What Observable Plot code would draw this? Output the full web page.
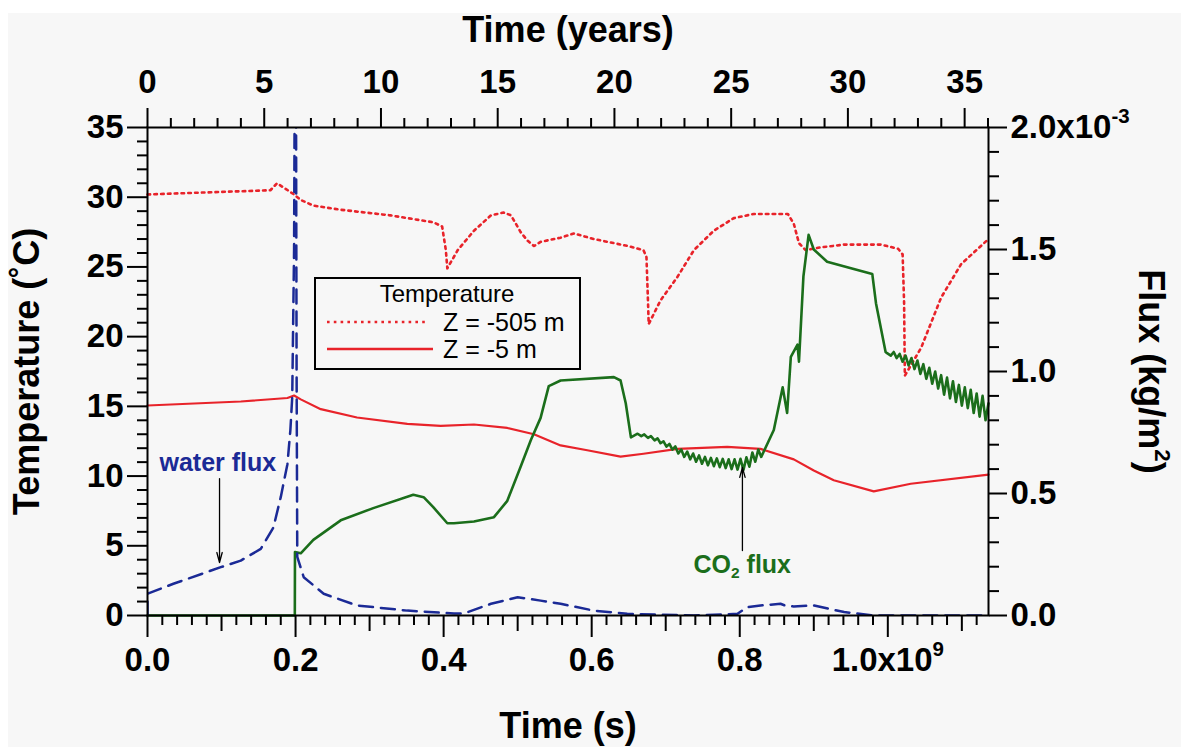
<!DOCTYPE html>
<html>
<head>
<meta charset="utf-8">
<script src="https://cdn.jsdelivr.net/npm/d3@7"></script>
<script src="https://cdn.jsdelivr.net/npm/@observablehq/plot@0.6"></script>
<style>
  html, body { margin: 0; padding: 0; background: #ffffff; }
  #wrap { position: relative; width: 1181px; height: 747px; overflow: hidden; }
  #bg { position: absolute; left: 8px; top: 13px; right: 0; bottom: 0; background: #f7f7f7; }
  #chart { position: absolute; left: 0; top: 0; }
  #legend { position: absolute; left: 314px; top: 277px; }
</style>
</head>
<body>
<div id="wrap">
  <div id="bg"></div>
  <div id="chart"></div>
  <svg id="legend" width="267" height="93"></svg>
</div>
<script>
// ---------- data (time in units of 1e9 s) ----------
const YEAR_E9 = 0.031536;          // one year in 1e9 s
const K = 35 / 2.0;                // flux (1e-3 kg/m2) -> temperature axis units

// Temperature, Z = -505 m  [time, °C]
const deepTemp = [
  [0, 30.2], [0.166, 30.5], [0.175, 31.0], [0.198, 30.2], [0.207, 29.8], [0.224, 29.4],
  [0.261, 29.1], [0.328, 28.7], [0.386, 28.2], [0.398, 27.9], [0.403, 26.2], [0.405, 24.9],
  [0.419, 26.2], [0.441, 27.6], [0.464, 28.7], [0.481, 28.9], [0.491, 28.7], [0.504, 27.5],
  [0.513, 26.9], [0.522, 26.5], [0.531, 26.8], [0.558, 27.1], [0.576, 27.4], [0.603, 27.0],
  [0.649, 26.5], [0.670, 26.2], [0.674, 25.7], [0.676, 22.6], [0.677, 20.9], [0.693, 22.6],
  [0.716, 24.3], [0.738, 26.2], [0.765, 27.6], [0.792, 28.5], [0.819, 28.8], [0.865, 28.8],
  [0.873, 28.1], [0.880, 26.7], [0.889, 26.2], [0.909, 26.4], [0.941, 26.6], [0.991, 26.6],
  [1.014, 26.3], [1.020, 25.9], [1.022, 22.4], [1.023, 17.2], [1.045, 19.2], [1.072, 22.8],
  [1.099, 25.2], [1.136, 27.0]
];

// Temperature, Z = -5 m  [time, °C]
const shallowTemp = [
  [0, 15.06], [0.126, 15.35], [0.189, 15.6], [0.198, 15.78], [0.207, 15.5], [0.234, 14.8],
  [0.283, 14.2], [0.351, 13.75], [0.396, 13.6], [0.441, 13.7], [0.486, 13.45], [0.522, 13.0],
  [0.558, 12.2], [0.594, 11.85], [0.639, 11.4], [0.670, 11.6], [0.716, 11.95], [0.783, 12.1],
  [0.828, 11.95], [0.873, 11.2], [0.900, 10.4], [0.927, 9.7], [0.981, 8.9], [1.031, 9.45],
  [1.136, 10.1]
];

// Water flux  [time, 1e-3 kg/m2]
const waterFlux = [
  [0, 0], [0, 0.089], [0.035, 0.13], [0.099, 0.198], [0.126, 0.225], [0.153, 0.273],
  [0.170, 0.36], [0.180, 0.485], [0.189, 0.62], [0.193, 0.76], [0.1955, 0.895], [0.198, 1.5],
  [0.199, 2.3], [0.2005, 2.3], [0.2014, 1.0], [0.2023, 0.24], [0.211, 0.157], [0.238, 0.089],
  [0.283, 0.041], [0.351, 0.02], [0.414, 0.008], [0.427, 0.008], [0.464, 0.048], [0.500, 0.075],
  [0.531, 0.061], [0.558, 0.048], [0.603, 0.02], [0.648, 0.007], [0.738, 0], [0.797, 0.007],
  [0.810, 0.034], [0.828, 0.041], [0.855, 0.048], [0.862, 0.040], [0.873, 0.037], [0.900, 0.041],
  [0.941, 0.014], [0.981, 0], [1.136, 0]
];

// CO2 flux  [time, 1e-3 kg/m2]
const co2Flux = [
  [0, 0], [0.199, 0], [0.1992, 0.26], [0.207, 0.255], [0.224, 0.31], [0.261, 0.39], [0.305, 0.44],
  [0.359, 0.495], [0.373, 0.485], [0.386, 0.444], [0.405, 0.378], [0.414, 0.378], [0.441, 0.385],
  [0.468, 0.403], [0.486, 0.47], [0.504, 0.61], [0.518, 0.72], [0.531, 0.81], [0.542, 0.94],
  [0.558, 0.963], [0.630, 0.977], [0.639, 0.963], [0.646, 0.87], [0.653, 0.73], [0.662, 0.745],
  [0.667, 0.735], [0.671, 0.742], [0.676, 0.728], [0.680, 0.735], [0.685, 0.718], [0.689, 0.726],
  [0.693, 0.706], [0.697, 0.714], [0.701, 0.692], [0.705, 0.703], [0.709, 0.680], [0.713, 0.693],
  [0.717, 0.664], [0.721, 0.680], [0.725, 0.650], [0.729, 0.672], [0.733, 0.640], [0.737, 0.664],
  [0.741, 0.630], [0.745, 0.656], [0.749, 0.622], [0.753, 0.650], [0.757, 0.616], [0.761, 0.646],
  [0.765, 0.612], [0.769, 0.644], [0.773, 0.608], [0.777, 0.642], [0.781, 0.604], [0.785, 0.640],
  [0.789, 0.600], [0.793, 0.640], [0.797, 0.598], [0.801, 0.642], [0.805, 0.596], [0.809, 0.648],
  [0.813, 0.610], [0.817, 0.668], [0.821, 0.630], [0.825, 0.680], [0.829, 0.650], [0.846, 0.76],
  [0.858, 0.935], [0.864, 0.83], [0.869, 1.06], [0.878, 1.11], [0.880, 1.04], [0.886, 1.39],
  [0.893, 1.56], [0.900, 1.50], [0.918, 1.45], [0.954, 1.42], [0.979, 1.40], [0.984, 1.28],
  [0.997, 1.08], [0.999, 1.075], [1.004, 1.065], [1.008, 1.080], [1.012, 1.055], [1.016, 1.072],
  [1.020, 1.040], [1.024, 1.065], [1.028, 1.025], [1.032, 1.055], [1.036, 1.010], [1.040, 1.045],
  [1.044, 0.990], [1.048, 1.030], [1.052, 0.970], [1.056, 1.015], [1.060, 0.950], [1.064, 1.000],
  [1.068, 0.930], [1.072, 0.985], [1.076, 0.905], [1.080, 0.975], [1.084, 0.890], [1.088, 0.960],
  [1.092, 0.875], [1.096, 0.945], [1.100, 0.860], [1.104, 0.935], [1.108, 0.850], [1.112, 0.925],
  [1.116, 0.830], [1.120, 0.910], [1.124, 0.815], [1.128, 0.900], [1.132, 0.800], [1.136, 0.870]
];

// ticks
const sMajor = [0, 0.2, 0.4, 0.6, 0.8, 1.0];
const sMid = [0.1, 0.3, 0.5, 0.7, 0.9, 1.1];
const sMinor = d3.range(0, 57).map(i => +(i * 0.02).toFixed(2))
  .filter(v => !sMajor.includes(v) && !sMid.includes(v) && v <= 1.136);
const yearMajor = [0, 5, 10, 15, 20, 25, 30, 35];
const yearMinor = d3.range(0, 37).filter(y => y % 5 !== 0);
const tempMajor = [0, 5, 10, 15, 20, 25, 30, 35];
const tempMinor = d3.range(0, 36).filter(t => t % 5 !== 0);
const fluxMajor = [0, 0.5, 1.0, 1.5, 2.0];
const fluxMinor = d3.range(1, 20).map(i => i / 10).filter(f => !fluxMajor.includes(f));

// text
const titles = { top: "Time (years)", bottom: "Time (s)", left: "Temperature (˚C)", right: "Flux (kg/m^{2})" };
const notes = [
  { label: "water flux", x: 0.095, f: 0.623 },
  { label: "CO_{2} flux", x: 0.8034, f: 0.209 }
];
const noteArrows = [
  { x: 0.0973, f1: 0.561, f2: 0.217 },
  { x: 0.8036, f1: 0.266, f2: 0.607 }
];
const legendTitle = "Temperature";
const seriesNames = ["Z = -505 m", "Z = -5 m"];

const RED = "#e8232a", GREEN = "#1b6e1b", BLUE = "#1b2a96";

const toRows = arr => arr.map(([t, v]) => ({ t, v }));
const fmtS = d => d === 1 ? "1.0x10^{9}" : d.toFixed(1);
const fmtFlux = f => Math.abs(f - 2) < 1e-9 ? "2.0x10^{-3}" : f.toFixed(1);
const tickFont = { fontSize: 33, fontWeight: "bold" };
const titleFont = { fontSize: 36, fontWeight: "bold", textAnchor: "middle", lineAnchor: "middle" };
const noText = () => "";

const chart = Plot.plot({
  width: 1181, height: 747,
  marginLeft: 147, marginRight: 193, marginTop: 127, marginBottom: 132,
  x: { domain: [0, 1.136], axis: null, label: null },
  y: { domain: [0, 35], axis: null, label: null },
  style: { background: "transparent", fontFamily: "'Liberation Sans', Arial, Helvetica, sans-serif", overflow: "visible" },
  marks: [
    // data
    Plot.line(toRows(deepTemp), { x: "t", y: "v", stroke: RED, strokeWidth: 2.6, strokeDasharray: "2.6,4.2" }),
    Plot.line(toRows(shallowTemp), { x: "t", y: "v", stroke: RED, strokeWidth: 2.2 }),
    Plot.line(toRows(co2Flux), { x: "t", y: d => d.v * K, stroke: GREEN, strokeWidth: 2.6 }),
    Plot.line(toRows(waterFlux), { x: "t", y: d => d.v * K, stroke: BLUE, strokeWidth: 2.5, strokeDasharray: "14,8", clip: true }),
    // frame & axes
    Plot.frame({ stroke: "black", strokeWidth: 2 }),
    Plot.axisX(sMajor, { anchor: "bottom", tickSize: 22, tickPadding: 10, strokeWidth: 2, tickFormat: fmtS, label: null, ...tickFont }),
    Plot.axisX(sMid, { anchor: "bottom", tickSize: 16, strokeWidth: 2, tickFormat: noText, label: null }),
    Plot.axisX(sMinor, { anchor: "bottom", tickSize: 10, strokeWidth: 2, tickFormat: noText, label: null }),
    Plot.axisX(yearMajor.map(y => y * YEAR_E9), { anchor: "top", tickSize: 20, tickPadding: 15, strokeWidth: 2,
      tickFormat: d => String(Math.round(d / YEAR_E9)), label: null, ...tickFont }),
    Plot.axisX(yearMinor.map(y => y * YEAR_E9), { anchor: "top", tickSize: 10, strokeWidth: 2, tickFormat: noText, label: null }),
    Plot.axisY(tempMajor, { anchor: "left", tickSize: 20, tickPadding: 4, strokeWidth: 2, tickFormat: d => String(d), label: null, ...tickFont }),
    Plot.axisY(tempMinor, { anchor: "left", tickSize: 10, strokeWidth: 2, tickFormat: noText, label: null }),
    Plot.axisY(fluxMajor.map(f => f * K), { anchor: "right", tickSize: 18, tickPadding: 4, strokeWidth: 2,
      tickFormat: d => fmtFlux(d / K), label: null, ...tickFont }),
    Plot.axisY(fluxMinor.map(f => f * K), { anchor: "right", tickSize: 10, strokeWidth: 2, tickFormat: noText, label: null }),
    // titles
    Plot.text([titles.top], { frameAnchor: "top", dy: -97, ...titleFont }),
    Plot.text([titles.bottom], { frameAnchor: "bottom", dy: 111, ...titleFont }),
    Plot.text([titles.left], { frameAnchor: "left", dx: -120, rotate: -90, ...titleFont }),
    Plot.text([titles.right], { frameAnchor: "right", dx: 162, rotate: 90, ...titleFont }),
    // annotations
    Plot.arrow(noteArrows, { x1: "x", x2: "x", y1: d => d.f1 * K, y2: d => d.f2 * K, stroke: "black", strokeWidth: 1.3, headLength: 12, headAngle: 30 }),
    Plot.text([notes[0]], { x: "x", y: d => d.f * K, text: "label", fill: BLUE, fontSize: 25, fontWeight: "bold" }),
    Plot.text([notes[1]], { x: "x", y: d => d.f * K, text: "label", fill: GREEN, fontSize: 25, fontWeight: "bold" })
  ]
});
document.getElementById("chart").appendChild(chart);

// legend
const lg = d3.select("#legend");
lg.append("rect").attr("x", 1).attr("y", 1).attr("width", 265).attr("height", 91)
  .attr("fill", "#f7f7f7").attr("stroke", "black").attr("stroke-width", 2);
lg.append("text").attr("x", 133).attr("y", 25).attr("text-anchor", "middle")
  .attr("font-family", "'Liberation Sans', Arial, sans-serif").attr("font-size", 24).text(legendTitle);
const rows = [{ y: 45, dash: "2.6,4.2", x2: 114 }, { y: 72, dash: null, x2: 119 }];
rows.forEach((r, i) => {
  const ln = lg.append("line").attr("x1", 13).attr("x2", r.x2).attr("y1", r.y).attr("y2", r.y)
    .attr("stroke", RED).attr("stroke-width", 2.5);
  if (r.dash) ln.attr("stroke-dasharray", r.dash);
  lg.append("text").attr("x", 129).attr("y", r.y + 9)
    .attr("font-family", "'Liberation Sans', Arial, sans-serif").attr("font-size", 25).text(seriesNames[i]);
});

// superscripts / subscripts:  ^{..}  _{..}
function richText(root) {
  root.querySelectorAll("text").forEach(t => {
    const s = t.textContent;
    if (!/[\^_]\{/.test(s)) return;
    const fs = parseFloat(getComputedStyle(t).fontSize) || 16;
    t.textContent = "";
    let shift = 0;
    s.split(/([\^_]\{[^}]*\})/).forEach(p => {
      if (!p) return;
      const ts = document.createElementNS("http://www.w3.org/2000/svg", "tspan");
      let target = 0, size = null, str = p;
      if (p.startsWith("^{")) { target = -0.45 * fs; size = 0.62 * fs; str = p.slice(2, -1); }
      else if (p.startsWith("_{")) { target = 0.22 * fs; size = 0.62 * fs; str = p.slice(2, -1); }
      ts.setAttribute("dy", (target - shift).toFixed(2));
      shift = target;
      if (size) ts.setAttribute("font-size", size.toFixed(1));
      ts.textContent = str;
      t.appendChild(ts);
    });
  });
}
richText(chart);
</script>
</body>
</html>
